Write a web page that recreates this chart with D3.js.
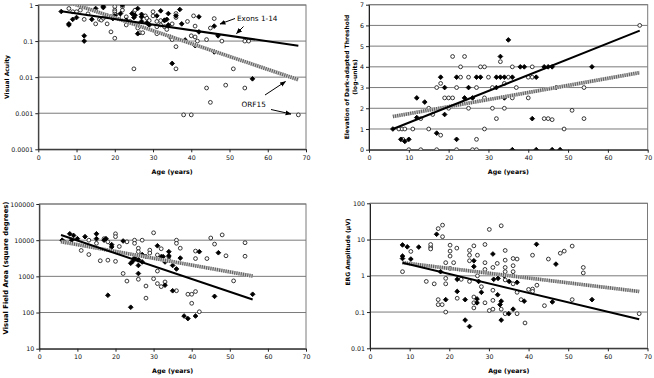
<!DOCTYPE html>
<html><head><meta charset="utf-8">
<script src="https://cdn.jsdelivr.net/npm/d3@7"></script>
<style>body{margin:0;background:#fff}svg{display:block}</style>
</head><body>
<svg id="c" width="654" height="378"></svg>
<script>
// ---------- data ----------
const ageTicks = [0,10,20,30,40,50,60,70];

const vaTicks = [0.0001,0.001,0.01,0.1,1];
const vaTickLabels = ["0.0001","0.001","0.01","0.1","1"];
const vaExons = [[6,0.66],[8,0.28],[8,0.3],[9,0.4],[10,0.45],[12,0.14],[12,0.1],[14,0.4],[15,0.8],[17,0.85],[17,0.92],[18,0.5],[19,0.47],[19.5,0.42],[20,0.5],[21.5,0.58],[22,1.0],[23,0.38],[24.5,0.58],[25,0.45],[25.3,0.52],[26,0.16],[26,0.8],[27,0.35],[27,0.47],[27,0.55],[28.4,0.32],[29,0.28],[31,0.5],[32,0.69],[33,0.38],[33.6,0.4],[34,0.58],[34,0.28],[35,0.024],[36,0.5],[37,0.75],[37.5,0.3],[38.4,0.107],[41,0.075],[42,0.47],[42,0.18],[46,0.26],[46,0.05],[47,0.14],[56,0.009]];
const vaOrf = [[8,0.8],[9,0.65],[10,0.65],[11,0.72],[12,0.4],[13,0.57],[15,0.3],[16,0.4],[16.5,0.38],[17,0.43],[18,0.3],[19,0.18],[20,0.12],[20,0.9],[20,0.72],[20,0.65],[20,0.56],[21,0.52],[21,0.48],[22,0.72],[22,0.9],[23,0.28],[23,0.47],[24,0.35],[25,0.017],[25,0.65],[25.3,0.72],[26,0.28],[26,0.23],[26.6,0.17],[27.3,0.17],[28,0.5],[28.4,0.43],[29,0.37],[30,0.5],[30,0.65],[31,0.35],[31,0.25],[31,0.16],[32,0.37],[32,0.28],[33,0.37],[33,0.25],[33.6,0.21],[34.5,0.13],[35,0.11],[35,0.3],[36,0.07],[36,0.017],[36,0.58],[36,0.45],[38,0.0009],[40,0.0009],[39,0.35],[40,0.14],[41,0.13],[40.6,0.5],[41,0.26],[41.6,0.1],[44,0.11],[44,0.005],[45,0.002],[45,0.23],[46,0.42],[48,0.1],[49,0.006],[51,0.017],[54,0.1],[55,0.1],[54,0.005],[68,0.0009]];
const vaExonsFit = [[6,0.67],[68,0.074]];
const vaOrfFit = [[6,1.4],[68,0.0085]];

const datTicks = [0,1,2,3,4,5,6,7];
const datTickLabels = ["0","1","2","3","4","5","6","7"];
const datExons = [[6,1.0],[8,0.5],[9,0.4],[10,0.5],[12,2.5],[12,1.55],[14,2.3],[17,0.8],[18,3.5],[19,3.0],[19,1.7],[22,0.5],[22,3.5],[24,2.5],[25,3.0],[26,2.5],[27,3.5],[28,3.5],[32,3.0],[32,3.5],[33,3.5],[33,4.5],[34,3.5],[34,2.5],[35,5.3],[36,3.5],[38,4.0],[39,4.0],[41,1.5],[42,3.5],[44,4.0],[45,4.0],[46,4.0],[47,3.0],[56,4.0],[36,0],[42,0],[46,0],[48,0]];
const datOrf = [[7.5,1],[8.3,1],[8.5,0.5],[9,1],[11,1],[10,0],[13,0],[13,1.5],[15,1],[15,2],[16,1.7],[17,3.0],[17,0],[18,3.2],[18,0.7],[19,2.5],[20,2.5],[21,2.5],[20,2],[21,4.5],[22,3.0],[22,0],[23,4.0],[23,3.5],[24,4.5],[25,3.5],[25,2.0],[26,0],[27,0],[27,3.0],[27,0.5],[28,4],[29,4],[29,2.5],[29,1.0],[30,3.5],[31,2],[31,3],[32,1.5],[33,4.25],[34,2],[34,3.2],[35,3.5],[36,4],[36,2.5],[37,3],[40,3.5],[41,3.5],[40,2.5],[41,4],[44,1.5],[45,1.5],[46,1.45],[49,1.0],[51,1.9],[54,1.5],[54,3.0],[68,6.0]];
const datExonsFit = [[6,1.0],[68,5.75]];
const datOrfFit = [[6,1.6],[68,3.72]];

const vfTicks = [10,100,1000,10000,100000];
const vfTickLabels = ["10","100","1000","10000","100000"];
const vfExons = [[6,10000],[8,15000],[8.5,10000],[9,13500],[10,11000],[12,12500],[15,15000],[15,11000],[17,10000],[17.5,11000],[18,300],[19,7500],[19,6500],[22,9500],[24,140],[24,2300],[24.5,2600],[25,3200],[26,2000],[26,1200],[26,2900],[27,2500],[27,4000],[28,3500],[31,7000],[32,3500],[32.5,3500],[33,2500],[33,570],[34,4800],[34,3700],[35,400],[35,2000],[36,1600],[37,3200],[38,80],[39,68],[41,80],[42,4800],[46,280],[47,4500],[56,320]];
const vfOrf = [[6.5,9000],[11,5200],[13,4000],[13,10000],[15,8200],[16,2700],[17,11000],[18,2800],[18,9000],[20,15000],[20,12500],[20,2600],[21,6700],[22,1200],[23,740],[23,9000],[25,10000],[25,8200],[26,6000],[26,4800],[26,830],[26,2800],[27,10000],[28,250],[28,540],[29,5300],[29,4400],[30,860],[30,16000],[31,3900],[31,1400],[31,630],[32,520],[32,5800],[33,700],[34,3500],[34,2800],[36,10000],[36,8200],[36,400],[37,6000],[39,320],[40,320],[40,180],[41,5000],[41,3100],[41,380],[42,105],[44,3100],[45,11500],[46,7800],[48,14000],[49,3700],[51,750],[54,8500],[54,3600]];
const vfExonsFit = [[5.7,13900],[56,230]];
const vfOrfFit = [[5.7,9100],[56,1020]];

const ergTicks = [0.01,0.1,1,10,100];
const ergTickLabels = ["0.01","0.1","1","10","100"];
const ergExons = [[8.2,7.1],[8.2,3.5],[8.2,3.0],[9.4,6.3],[10.3,2.9],[12.3,6.2],[16.8,14],[17.8,1.3],[19.1,0.22],[22,0.37],[22,0.8],[24,0.06],[24,0.22],[25.1,0.04],[26.2,2.6],[26.2,1.8],[27,0.18],[27,0.23],[27.4,0.7],[28.1,0.35],[31,4.0],[31.2,0.8],[32.2,0.3],[32.3,0.85],[32.8,0.16],[33.1,0.06],[33.1,0.2],[33.9,1.0],[35,0.09],[35.1,0.7],[36.1,0.12],[37.1,0.66],[38.9,0.2],[42,7.4],[46,0.19],[46.9,2.1],[56,0.22]];
const ergOrf = [[8.2,1.3],[10.3,4.7],[14.2,0.7],[15.3,6.2],[15.3,7.3],[15.3,5.5],[16.2,0.6],[17.2,20],[18.3,25],[18.3,12],[17.2,0.22],[17.2,0.16],[18.2,0.16],[19.1,2.3],[19.1,0.85],[19.1,0.6],[19.1,0.1],[20.2,7],[20.2,4.8],[20.2,3.5],[20.2,1.6],[21.1,2.3],[21.9,5.8],[22,0.24],[23,0.8],[25.1,3.7],[25.1,2.6],[25.1,0.7],[25.1,5],[26.2,6.7],[26.2,0.26],[26.2,0.18],[26.2,0.13],[27.1,3.7],[27.1,1.0],[28.1,0.5],[29,2.3],[29,1.5],[29,7.3],[29,0.18],[30.1,19],[30.1,0.11],[31,0.12],[31,0.21],[31,1.7],[31,0.4],[32.1,2.2],[33.1,24],[33.1,0.12],[34.1,5],[34.1,2.7],[34.1,1.7],[34.1,1.3],[34.1,0.77],[34.1,0.09],[36.1,3.0],[36.1,1.9],[36.1,1.3],[36.1,1.0],[36.1,0.6],[37.1,2.9],[37.1,0.35],[37.1,0.09],[38.1,0.22],[39.1,0.05],[40,0.42],[41,0.43],[41,0.37],[41,3.7],[42.1,0.55],[44,0.15],[45,2.9],[48,4.2],[49,4.8],[51,6.6],[51,0.22],[53.8,1.7],[53.8,1.2],[67.9,0.09]];
const ergExonsFit = [[8.2,2.3],[67.9,0.063]];
const ergOrfFit = [[8.2,2.3],[67.9,0.37]];

// ---------- drawing ----------
const svg = d3.select("#c");
const FONT = "DejaVu Sans, Verdana, sans-serif";

const defs = svg.append("defs");
defs.append("marker").attr("id","arr").attr("viewBox","0 0 10 10").attr("refX",9).attr("refY",5)
  .attr("markerWidth",6).attr("markerHeight",6).attr("markerUnits","userSpaceOnUse").attr("orient","auto")
  .append("path").attr("d","M0,1 L10,5 L0,9 Z").attr("fill","#000");

function panel(cfg){
  const g = svg.append("g");
  const x = d3.scaleLinear().domain([0,70]).range([cfg.left,cfg.right]);
  const y = (cfg.log ? d3.scaleLog() : d3.scaleLinear()).domain(cfg.domain).range([cfg.bottom,cfg.top]);
  const clipId = "clip"+cfg.id;
  defs.append("clipPath").attr("id",clipId).append("rect")
    .attr("x",cfg.left).attr("y",cfg.top).attr("width",cfg.right-cfg.left).attr("height",cfg.bottom-cfg.top);

  // gridlines
  g.selectAll(".grid").data(cfg.ticks).join("line")
    .attr("x1",cfg.left).attr("x2",cfg.right)
    .attr("y1",d=>y(d)).attr("y2",d=>y(d))
    .attr("stroke","#7a7a7a").attr("stroke-width",1);
  // frame
  g.append("rect").attr("x",cfg.left).attr("y",cfg.top)
    .attr("width",cfg.right-cfg.left).attr("height",cfg.bottom-cfg.top)
    .attr("fill","none").attr("stroke","#7a7a7a").attr("stroke-width",1);

  // axes
  const ax = g.append("g").attr("transform",`translate(0,${cfg.bottom})`)
    .call(d3.axisBottom(x).tickValues(ageTicks).tickFormat(d3.format("d")).tickSize(3).tickPadding(3).tickSizeOuter(0));
  const ay = g.append("g").attr("transform",`translate(${cfg.left},0)`)
    .call(d3.axisLeft(y).tickValues(cfg.ticks).tickFormat((d,i)=>cfg.labels[i]).tickSize(3).tickPadding(2).tickSizeOuter(0));
  [ax,ay].forEach(a=>{
    a.selectAll("text").attr("font-family",FONT).attr("font-size",6.3).attr("fill","#111");
    a.selectAll("line,path").attr("stroke","#222");
  });

  // points
  const pts = g.append("g").attr("clip-path",`url(#${clipId})`);
  pts.selectAll(".o").data(cfg.orf).join("circle")
    .attr("cx",d=>x(d[0])).attr("cy",d=>y(d[1])).attr("r",1.9)
    .attr("fill","#fff").attr("stroke","#222").attr("stroke-width",0.9);
  pts.selectAll(".e").data(cfg.exons).join("path")
    .attr("transform",d=>`translate(${x(d[0])},${y(d[1])})`)
    .attr("d",d3.symbol().type(d3.symbolDiamond2).size(14))
    .attr("fill","#000").attr("stroke","#000").attr("stroke-width",0.9);

  // fit lines
  const line = d3.line().x(d=>x(d[0])).y(d=>y(d[1]));
  const lg = g.append("g").attr("clip-path",`url(#${clipId})`);
  lg.append("path").attr("d",line(cfg.orfFit)).attr("stroke","#c4c4c4").attr("stroke-width",3.6).attr("fill","none");
  lg.append("path").attr("d",line(cfg.orfFit)).attr("stroke","#5e5e5e").attr("stroke-width",3.6)
    .attr("stroke-dasharray","1,1.2").attr("fill","none");
  lg.append("path").attr("d",line(cfg.exonsFit)).attr("stroke","#000").attr("stroke-width",2).attr("fill","none");

  // titles
  g.append("text").attr("x",(cfg.left+cfg.right)/2).attr("y",cfg.xTitleY)
    .attr("text-anchor","middle").attr("dominant-baseline","central")
    .attr("font-family",FONT).attr("font-weight","bold").attr("font-size",6.3).text("Age (years)");
  cfg.yTitle.forEach((t,i)=>{
    g.append("text")
      .attr("transform",`translate(${cfg.yTitleX[i]},${cfg.yTitleY}) rotate(-90)`)
      .attr("text-anchor","middle").attr("dominant-baseline","central")
      .attr("font-family",FONT).attr("font-weight","bold").attr("font-size",cfg.yTitleSize).text(t);
  });
  return {g,x,y};
}

const p1 = panel({id:1,left:38.3,right:306,top:5,bottom:149.3,log:true,domain:[0.0001,1],
  ticks:vaTicks,labels:vaTickLabels,exons:vaExons,orf:vaOrf,exonsFit:vaExonsFit,orfFit:vaOrfFit,
  xTitleY:171,yTitle:["Visual Acuity"],yTitleX:[6],yTitleY:77,yTitleSize:6});
panel({id:2,left:369,right:647.7,top:4.7,bottom:149.7,log:false,domain:[0,7],
  ticks:datTicks,labels:datTickLabels,exons:datExons,orf:datOrf,exonsFit:datExonsFit,orfFit:datOrfFit,
  xTitleY:171,yTitle:["Elevation of Dark-adapted Threshold","(log-units)"],yTitleX:[346,354.5],yTitleY:77,yTitleSize:6});
panel({id:3,left:39.3,right:306,top:204,bottom:348.7,log:true,domain:[10,100000],
  ticks:vfTicks,labels:vfTickLabels,exons:vfExons,orf:vfOrf,exonsFit:vfExonsFit,orfFit:vfOrfFit,
  xTitleY:370,yTitle:["Visual Field Area (square degrees)"],yTitleX:[6],yTitleY:268,yTitleSize:6.8});
panel({id:4,left:370,right:647.5,top:203.3,bottom:348.3,log:true,domain:[0.01,100],
  ticks:ergTicks,labels:ergTickLabels,exons:ergExons,orf:ergOrf,exonsFit:ergExonsFit,orfFit:ergOrfFit,
  xTitleY:370,yTitle:["ERG Amplitude (\u00B5V)"],yTitleX:[347],yTitleY:252,yTitleSize:6});

// annotations in panel 1
const ann = p1.g.append("g");
ann.append("text").attr("x",237).attr("y",18.3).attr("dominant-baseline","central")
  .attr("font-family",FONT).attr("font-size",7.3).text("Exons 1-14");
ann.append("text").attr("x",241.5).attr("y",104).attr("dominant-baseline","central")
  .attr("font-family",FONT).attr("font-size",7.3).text("ORF15");
const arrows = [[[235,18.5],[220,24]],[[243.5,26.5],[236.5,33.5]],[[265,95],[285.5,81.5]],[[271,109.5],[291,114]]];
ann.selectAll("line").data(arrows).join("line")
  .attr("x1",d=>d[0][0]).attr("y1",d=>d[0][1]).attr("x2",d=>d[1][0]).attr("y2",d=>d[1][1])
  .attr("stroke","#000").attr("stroke-width",1).attr("marker-end","url(#arr)");
</script>
</body></html>
